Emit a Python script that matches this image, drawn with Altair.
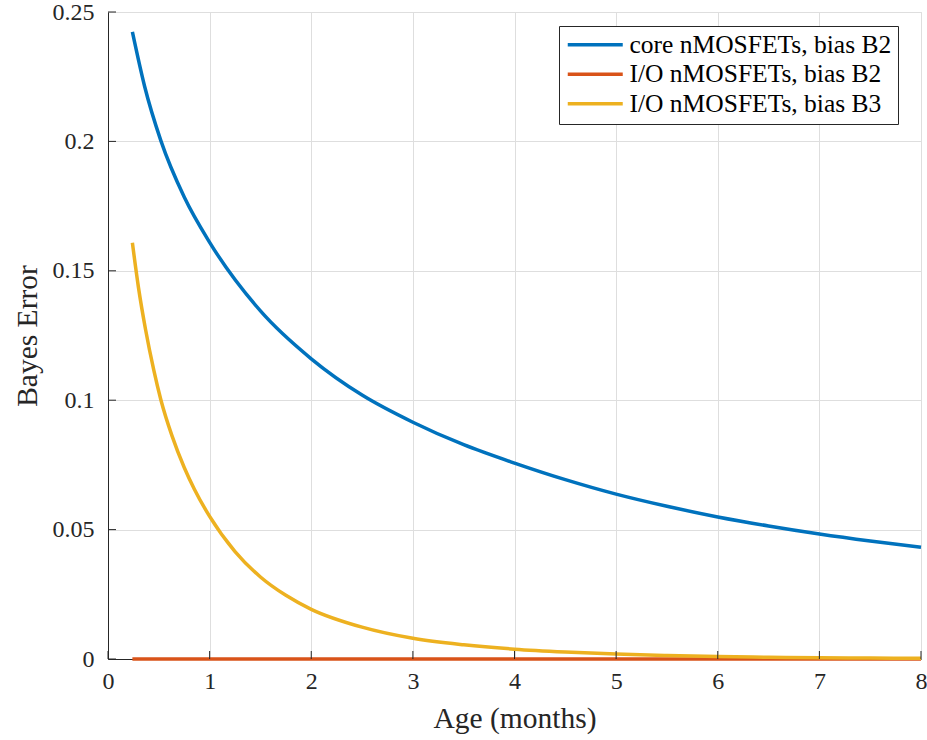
import altair as alt
import pandas as pd

# ---- data ----
series_names = ["core nMOSFETs, bias B2", "I/O nMOSFETs, bias B2", "I/O nMOSFETs, bias B3"]
series_colors = ["#0072BD", "#D95319", "#EDB120"]

core_b2_age = [0.24, 0.36, 0.52, 0.75, 1.0, 1.5, 2.0, 2.5, 3.0, 3.5, 4.0, 4.5,
               5.0, 5.5, 6.0, 6.5, 7.0, 7.5, 8.0]
core_b2_err = [0.2423, 0.2213, 0.2003, 0.1785, 0.1610, 0.1345, 0.1160, 0.1020, 0.0915,
               0.0828, 0.0757, 0.0693, 0.0637, 0.0590, 0.0549, 0.0514, 0.0483, 0.0456,
               0.0432]

io_b2_age = [0.24, 8.0]
io_b2_err = [0.0, 0.0]

io_b3_age = [0.24, 0.30, 0.37, 0.45, 0.52, 0.63, 0.75, 0.85, 1.0, 1.25, 1.5, 1.75,
             2.0, 2.5, 3.0, 3.5, 4.0, 4.5, 5.0, 5.5, 6.0, 6.5, 7.0, 7.5, 8.0]
io_b3_err = [0.1608, 0.1435, 0.1272, 0.1117, 0.1002, 0.0862, 0.0740, 0.0656, 0.0551,
             0.0415, 0.0317, 0.0246, 0.0192, 0.0123, 0.0080, 0.0055, 0.0038, 0.0027,
             0.0019, 0.00135, 0.00096, 0.00069, 0.00049, 0.00035, 0.00025]

x_ticks = [0, 1, 2, 3, 4, 5, 6, 7, 8]
y_ticks = [0, 0.05, 0.1, 0.15, 0.2, 0.25]

# ---- build tables ----
rows = []
for name, ages, errs in zip(series_names,
                            [core_b2_age, io_b2_age, io_b3_age],
                            [core_b2_err, io_b2_err, io_b3_err]):
    for a, e in zip(ages, errs):
        rows.append({"age": a, "err": e, "series": name})
df = pd.DataFrame(rows)

FONT = "Liberation Serif"
INK = "#262626"
GRID = "#dedede"

xscale = alt.Scale(domain=[0, 8], nice=False, zero=False)
yscale = alt.Scale(domain=[0, 0.25], nice=False, zero=False)

lines = alt.Chart(df).mark_line(strokeWidth=3.5, interpolate="monotone").encode(
    x=alt.X("age:Q", scale=xscale, title="Age (months)",
            axis=alt.Axis(values=x_ticks, format="d", grid=True, gridColor=GRID,
                          gridWidth=1, ticks=False, domainColor=INK, domainWidth=1,
                          labelFont=FONT, labelFontSize=24, labelColor=INK,
                          labelPadding=10, titleFont=FONT, titleFontSize=29.5,
                          titleFontWeight="normal", titleColor=INK, titlePadding=11,
                          labelFlush=False)),
    y=alt.Y("err:Q", scale=yscale, title="Bayes Error",
            axis=alt.Axis(values=y_ticks, format="~g", grid=True, gridColor=GRID,
                          gridWidth=1, ticks=False, domainColor=INK, domainWidth=1,
                          labelFont=FONT, labelFontSize=24, labelColor=INK,
                          labelPadding=14, titleFont=FONT, titleFontSize=29.5,
                          titleFontWeight="normal", titleColor=INK, titlePadding=10,
                          labelFlush=False)),
    color=alt.Color("series:N", sort=series_names,
                    scale=alt.Scale(domain=series_names, range=series_colors),
                    legend=alt.Legend(title=None, orient="none", legendX=451, legendY=14,
                                      symbolType="M-1,0H4.5", symbolSize=400,
                                      symbolStrokeWidth=3.5, labelFont=FONT,
                                      labelFontSize=25.5, labelColor="black",
                                      labelOffset=39, labelLimit=500, padding=6,
                                      rowPadding=2.5, strokeColor=INK, fillColor="white")),
)

xtick_layer = alt.Chart(pd.DataFrame({"age": x_ticks})).mark_rule(
    color=INK, strokeWidth=1).encode(
    x=alt.X("age:Q", scale=xscale, title="Age (months)"),
    y=alt.value(647), y2=alt.value(639))

ytick_layer = alt.Chart(pd.DataFrame({"err": y_ticks})).mark_rule(
    color=INK, strokeWidth=1).encode(
    y=alt.Y("err:Q", scale=yscale, title="Bayes Error"),
    x=alt.value(0), x2=alt.value(8))

chart = alt.layer(lines, xtick_layer, ytick_layer).properties(
    width=813, height=647,
    autosize=alt.AutoSizeParams(type="none"),
    padding={"left": 108, "top": 12, "right": 6, "bottom": 81},
    background="white",
).configure_view(stroke=None).configure(font=FONT)

chart.save("out.html", embed_options={"renderer": "svg", "actions": False})
